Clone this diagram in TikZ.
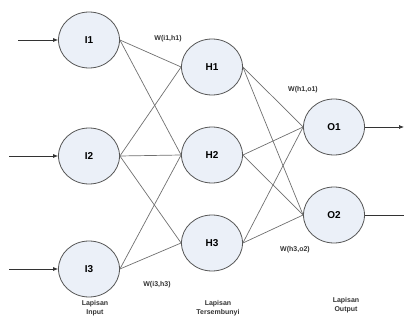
\documentclass[tikz,border=0pt]{standalone}
\usepackage{fontspec}
\setmainfont{Liberation Sans}
\usetikzlibrary{arrows.meta,shapes.geometric}
\definecolor{nodefill}{HTML}{EBF0F8}
\definecolor{nodeline}{HTML}{555555}
\definecolor{edgec}{HTML}{707070}
\tikzset{
  neuron/.style={ellipse, draw=nodeline, line width=0.8pt, fill=nodefill, minimum width=61pt, minimum height=56pt, inner sep=0pt, font=\bfseries\fontsize{10}{12}\selectfont},
  link/.style={draw=edgec, line width=0.7pt},
  io/.style={draw=black!80, line width=0.7pt, -{Latex[length=5pt,width=4pt]}},
  wlabel/.style={font=\bfseries\fontsize{7}{8}\selectfont, text=black!80},
  layer/.style={font=\bfseries\fontsize{7}{9.5}\selectfont, align=center, text=black!80, anchor=north, inner sep=1pt}
}
\begin{document}
\begin{tikzpicture}[x=1pt,y=-1pt]
\useasboundingbox (0,0) rectangle (404,320);
\clip (0,0) rectangle (404,320);
\node[neuron] (I1) at (89,40) {I1};
\node[neuron] (I2) at (89,156) {I2};
\node[neuron] (I3) at (89,269) {I3};
\node[neuron] (H1) at (212,67) {H1};
\node[neuron] (H2) at (212,155) {H2};
\node[neuron] (H3) at (212,243) {H3};
\node[neuron] (O1) at (334,127) {O1};
\node[neuron] (O2) at (334,215) {O2};
\foreach \a/\b in {I1/H1,I1/H2,I2/H1,I2/H2,I2/H3,I3/H2,I3/H3,
                   H1/O1,H1/O2,H2/O1,H2/O2,H3/O1,H3/O2}{
  \draw[link] (\a.east) -- (\b.west);
}
\coordinate (in1) at (18,40);
\coordinate (in2) at (9,156);
\coordinate (in3) at (9,269);
\coordinate (out1) at (404,127);
\coordinate (out2) at (404,215);
\draw[io] (in1) -- (I1.west);
\draw[io] (in2) -- (I2.west);
\draw[io] (in3) -- (I3.west);
\draw[io] (O1.east) -- (out1);
\draw[draw=black!80, line width=0.7pt] (O2.east) -- (out2);
\node[wlabel] (w11) at (168,39) {W(i1,h1)};
\node[wlabel] (w33) at (157,285) {W(i3,h3)};
\node[wlabel] (wo1) at (303,90) {W(h1,o1)};
\node[wlabel] (wo2) at (295,250) {W(h3,o2)};
\node[layer] (lin) at (95,299) {Lapisan\\Input};
\node[layer] (lhid) at (218,299) {Lapisan\\Tersembunyi};
\node[layer] (lout) at (346,296) {Lapisan\\Output};
\end{tikzpicture}
\end{document}
